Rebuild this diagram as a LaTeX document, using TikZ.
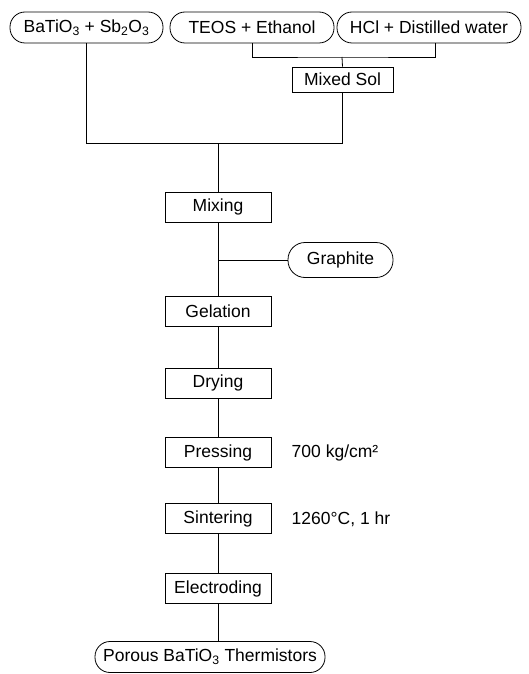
\documentclass[tikz,border=0pt]{standalone}
\usepackage{fontspec}
\setmainfont{Liberation Sans}
\usetikzlibrary{calc,positioning}

\begin{document}
\begin{tikzpicture}[
    x=1pt,
    y=-1pt,
    font=\fontsize{17.5}{20}\selectfont,
    line width=0.8pt,
    stepbox/.style={draw,minimum width=106pt,minimum height=30pt,inner sep=0pt},
    pill/.style={draw,rounded corners=15pt,minimum height=31pt,inner sep=0pt},
    note/.style={anchor=west}
  ]
  \useasboundingbox (0,0) rectangle (528,674);
  % starting materials
  \node[pill,minimum width=153pt] (bto) at (86.5,27.5) {BaTiO\textsubscript{3} + Sb\textsubscript{2}O\textsubscript{3}};
  \node[pill,minimum width=164pt] (teos) at (252,27.5) {TEOS + Ethanol};
  \node[pill,minimum width=184pt] (hcl) at (429,27.5) {HCl + Distilled water};
  \node[stepbox,minimum width=101pt,minimum height=25pt] (sol) at (342.5,79.5) {Mixed Sol};
  \coordinate (brk) at (342,57);
  % process steps
  \node[stepbox] (mix) at (218,207) {Mixing};
  \coordinate (join) at (mix.north |- 0,143);
  \node[pill,minimum width=105pt,minimum height=35pt,rounded corners=17pt] (graph) at (340.5,260) {Graphite};
  \node[stepbox] (gel) at (218,311.5) {Gelation};
  \node[stepbox] (dry) at (218,383) {Drying};
  \node[stepbox] (press) at (218,452.5) {Pressing};
  \node[stepbox] (sint) at (218,518.5) {Sintering};
  \node[stepbox] (elec) at (218,588.5) {Electroding};
  \node[pill,minimum width=230pt] (prod) at (210,657) {Porous BaTiO\textsubscript{3} Thermistors};
  % conditions
  \node[note] at (288,452.5) {700 kg/cm²};
  \node[note] at (288,519) {1260°C, 1 hr};
  % connectors
  \draw (teos.south) |- (brk) -| ([xshift=6pt]hcl.south);
  \draw (brk) -- (sol.north);
  \draw (bto.south) |- (join);
  \draw (sol.south) |- (join);
  \draw (join) -- (mix.north);
  \draw (mix.south) -- (gel.north);
  \draw (graph.west) -- (graph.west -| mix.south);
  \draw (gel.south) -- (dry.north);
  \draw (dry.south) -- (press.north);
  \draw (press.south) -- (sint.north);
  \draw (sint.south) -- (elec.north);
  \draw (elec.south) -- (elec.south |- prod.north);
\end{tikzpicture}
\end{document}
